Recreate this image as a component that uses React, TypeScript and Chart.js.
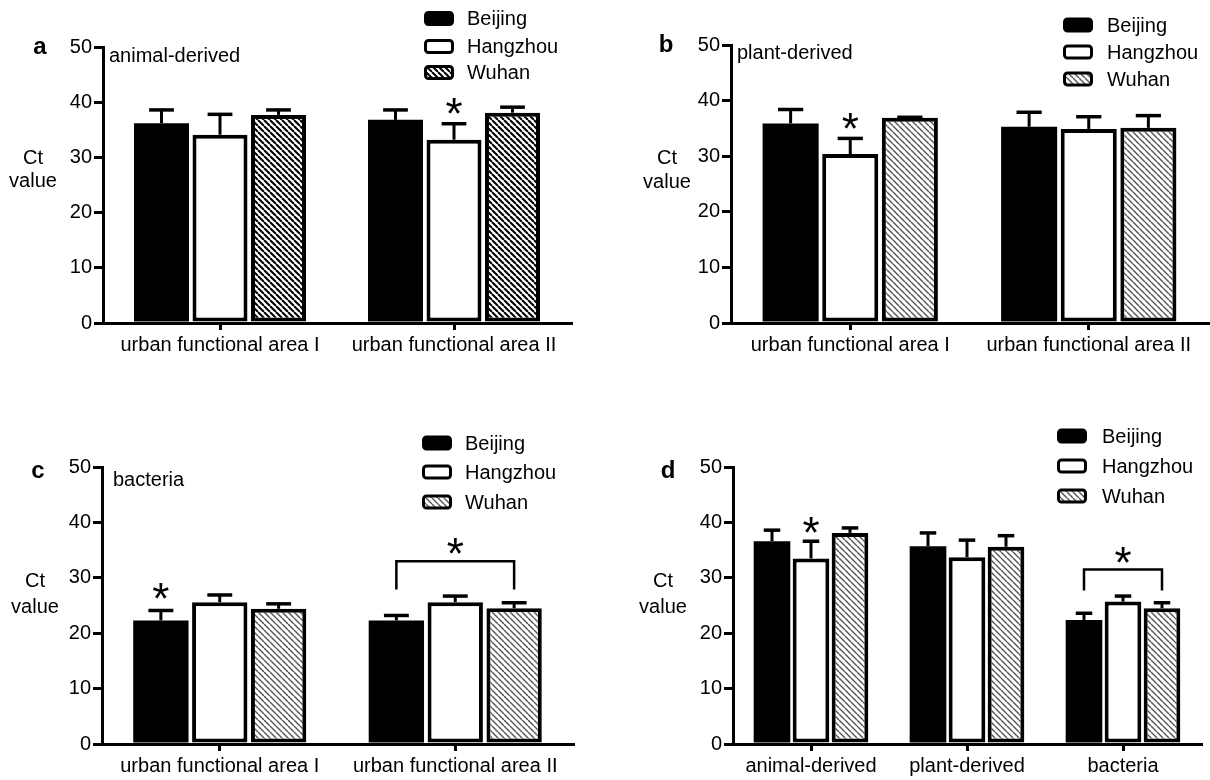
import React, { useEffect, useRef } from 'react';
import { Chart, registerables } from 'chart.js';

Chart.register(...registerables);

const FONT = '"Liberation Sans", Arial, Helvetica, sans-serif';

// ---------- data ----------
const seriesNames = ['Beijing', 'Hangzhou', 'Wuhan'];
const yTickValues = [0, 10, 20, 30, 40, 50];

// panel a: animal-derived
const catsA = ['urban functional area I', 'urban functional area II'];
const beijingA = [36.2, 36.8];
const hangzhouA = [34.1, 33.2];
const wuhanA = [37.7, 38.1];
const errBeijingA = [2.4, 1.8];
const errHangzhouA = [3.7, 2.9];
const errWuhanA = [0.9, 1.0];

// panel b: plant-derived
const catsB = ['urban functional area I', 'urban functional area II'];
const beijingB = [35.9, 35.3];
const hangzhouB = [30.4, 34.9];
const wuhanB = [36.9, 35.1];
const errBeijingB = [2.5, 2.6];
const errHangzhouB = [2.8, 2.2];
const errWuhanB = [0.1, 2.2];

// panel c: bacteria
const catsC = ['urban functional area I', 'urban functional area II'];
const beijingC = [22.3, 22.3];
const hangzhouC = [25.6, 25.6];
const wuhanC = [24.4, 24.5];
const errBeijingC = [1.8, 0.9];
const errHangzhouC = [1.3, 1.1];
const errWuhanC = [0.9, 1.0];

// panel d: all sources
const catsD = ['animal-derived', 'plant-derived', 'bacteria'];
const beijingD = [36.6, 35.7, 22.4];
const hangzhouD = [33.5, 33.7, 25.7];
const wuhanD = [38.1, 35.6, 24.5];
const errBeijingD = [2.0, 2.4, 1.2];
const errHangzhouD = [3.1, 3.1, 1.0];
const errWuhanD = [0.9, 2.0, 1.0];

// significance marks: [seriesIndex, categoryIndex, value]
const starsA = [[1, 1, 39.4]];
const starsB = [[1, 0, 36.4]];
const starsC = [[0, 0, 27.6]];
const starsD = [[1, 0, 39.6]];
// brackets: [categoryIndex, fromSeries, toSeries, topValue, endValue, starValue]
const bracketsA: number[][] = [];
const bracketsB: number[][] = [];
const bracketsC = [[1, 0, 2, 33.0, 27.9, 35.7]];
const bracketsD = [[2, 0, 2, 31.5, 27.7, 34.2]];

// ---------- layout ----------
type Spec = {
  left: number; top: number; width: number; height: number;
  plotLeft: number; plotRight: number; plotTop: number; plotBottom: number;
  letter: string; letterX: number; letterBase: number;
  subtitle: string; subX: number; subBase: number;
  ctX: number; ctBase: number; valueBase: number;
  legBoxX: number; legTextX: number; legRows: number[];
  hatchColor: string; hatchWidth: number; hatchGap: number;
  cats: string[]; data: number[][]; errs: number[][];
  stars: number[][]; brackets: number[][];
};

const panels: Spec[] = [
  {
    left: 0, top: 0, width: 605, height: 390,
    plotLeft: 103, plotRight: 571, plotTop: 47, plotBottom: 323,
    letter: 'a', letterX: 40, letterBase: 54,
    subtitle: 'animal-derived', subX: 109, subBase: 62,
    ctX: 33, ctBase: 164, valueBase: 187,
    legBoxX: 424, legTextX: 467, legRows: [18.5, 46.5, 72.5],
    hatchColor: '#000', hatchWidth: 2, hatchGap: 6,
    cats: catsA, data: [beijingA, hangzhouA, wuhanA], errs: [errBeijingA, errHangzhouA, errWuhanA],
    stars: starsA, brackets: bracketsA,
  },
  {
    left: 605, top: 0, width: 605, height: 390,
    plotLeft: 731, plotRight: 1208, plotTop: 45, plotBottom: 323,
    letter: 'b', letterX: 666, letterBase: 52,
    subtitle: 'plant-derived', subX: 737, subBase: 59,
    ctX: 667, ctBase: 164, valueBase: 188,
    legBoxX: 1063, legTextX: 1107, legRows: [25, 52, 79],
    hatchColor: '#555', hatchWidth: 1.4, hatchGap: 6,
    cats: catsB, data: [beijingB, hangzhouB, wuhanB], errs: [errBeijingB, errHangzhouB, errWuhanB],
    stars: starsB, brackets: bracketsB,
  },
  {
    left: 0, top: 390, width: 605, height: 390,
    plotLeft: 102, plotRight: 573, plotTop: 467, plotBottom: 744,
    letter: 'c', letterX: 38, letterBase: 478,
    subtitle: 'bacteria', subX: 113, subBase: 486,
    ctX: 35, ctBase: 587, valueBase: 613,
    legBoxX: 422, legTextX: 465, legRows: [443, 472, 502],
    hatchColor: '#555', hatchWidth: 1.4, hatchGap: 6,
    cats: catsC, data: [beijingC, hangzhouC, wuhanC], errs: [errBeijingC, errHangzhouC, errWuhanC],
    stars: starsC, brackets: bracketsC,
  },
  {
    left: 605, top: 390, width: 605, height: 390,
    plotLeft: 733, plotRight: 1201, plotTop: 467, plotBottom: 744,
    letter: 'd', letterX: 668, letterBase: 478,
    subtitle: '', subX: 0, subBase: 0,
    ctX: 663, ctBase: 587, valueBase: 613,
    legBoxX: 1057, legTextX: 1102, legRows: [436, 466, 496],
    hatchColor: '#555', hatchWidth: 1.4, hatchGap: 6,
    cats: catsD, data: [beijingD, hangzhouD, wuhanD], errs: [errBeijingD, errHangzhouD, errWuhanD],
    stars: starsD, brackets: bracketsD,
  },
];

function drawStar(ctx: CanvasRenderingContext2D, x: number, cy: number) {
  ctx.save();
  ctx.font = `44px ${FONT}`;
  ctx.textAlign = 'center';
  ctx.textBaseline = 'alphabetic';
  ctx.fillStyle = '#000';
  const m = ctx.measureText('*');
  const asc = m.actualBoundingBoxAscent;
  const desc = m.actualBoundingBoxDescent;
  const base = cy - (desc - asc) / 2;
  ctx.fillText('*', x, base);
  ctx.restore();
}

function Panel({ p }: { p: Spec }) {
  const ref = useRef<HTMLCanvasElement>(null);
  useEffect(() => {
    const canvas = ref.current!;
    const c0 = canvas.getContext('2d')!;
    const s = p.hatchGap;
    const tile = document.createElement('canvas');
    tile.width = s;
    tile.height = s;
    const t = tile.getContext('2d')!;
    t.fillStyle = '#fff';
    t.fillRect(0, 0, s, s);
    t.strokeStyle = p.hatchColor;
    t.lineWidth = p.hatchWidth;
    for (const o of [-s, 0, s]) {
      t.beginPath();
      t.moveTo(o, 0);
      t.lineTo(o + s, s);
      t.stroke();
    }
    const hatch = c0.createPattern(tile, 'repeat')!;
    const fills: (string | CanvasPattern)[] = ['#000', '#fff', hatch];
    const borders = [0, 4, 4];
    const ox = p.left;
    const oy = p.top;

    const decor = {
      id: 'decor',
      afterDatasetsDraw(chart: any) {
        const ctx: CanvasRenderingContext2D = chart.ctx;
        const ys = chart.scales.y;
        ctx.save();
        ctx.strokeStyle = '#000';
        ctx.lineCap = 'butt';
        // error bars
        p.errs.forEach((errArr, di) => {
          const meta = chart.getDatasetMeta(di);
          meta.data.forEach((el: any, i: number) => {
            const v = p.data[di][i];
            const yTop = ys.getPixelForValue(v + errArr[i]);
            const cap = el.width * 0.45;
            ctx.lineWidth = 3;
            ctx.beginPath();
            ctx.moveTo(el.x, el.y);
            ctx.lineTo(el.x, yTop);
            ctx.stroke();
            ctx.lineWidth = 3.5;
            ctx.beginPath();
            ctx.moveTo(el.x - cap / 2, yTop);
            ctx.lineTo(el.x + cap / 2, yTop);
            ctx.stroke();
          });
        });
        // stars
        p.stars.forEach(([di, ci, v]) => {
          const el = chart.getDatasetMeta(di).data[ci];
          drawStar(ctx, el.x, ys.getPixelForValue(v));
        });
        // brackets
        p.brackets.forEach(([ci, d1, d2, top, end, sv]) => {
          const e1 = chart.getDatasetMeta(d1).data[ci];
          const e2 = chart.getDatasetMeta(d2).data[ci];
          const yt = ys.getPixelForValue(top);
          const ye = ys.getPixelForValue(end);
          ctx.lineWidth = 2.5;
          ctx.beginPath();
          ctx.moveTo(e1.x, ye);
          ctx.lineTo(e1.x, yt);
          ctx.lineTo(e2.x, yt);
          ctx.lineTo(e2.x, ye);
          ctx.stroke();
          drawStar(ctx, (e1.x + e2.x) / 2, ys.getPixelForValue(sv));
        });
        ctx.restore();
      },
      afterDraw(chart: any) {
        const ctx: CanvasRenderingContext2D = chart.ctx;
        ctx.save();
        ctx.fillStyle = '#000';
        ctx.textBaseline = 'alphabetic';
        // panel letter
        ctx.font = `bold 24px ${FONT}`;
        ctx.textAlign = 'center';
        ctx.fillText(p.letter, p.letterX - ox, p.letterBase - oy);
        // subtitle
        ctx.font = `20px ${FONT}`;
        if (p.subtitle) {
          ctx.textAlign = 'left';
          ctx.fillText(p.subtitle, p.subX - ox, p.subBase - oy);
        }
        // y title
        ctx.textAlign = 'center';
        ctx.fillText('Ct', p.ctX - ox, p.ctBase - oy);
        ctx.fillText('value', p.ctX - ox, p.valueBase - oy);
        // legend
        seriesNames.forEach((name, i) => {
          const cy = p.legRows[i] - oy;
          const bx = p.legBoxX - ox;
          const w = 30, h = 15, lw = 3;
          ctx.beginPath();
          ctx.roundRect(bx + lw / 2, cy - h / 2 + lw / 2, w - lw, h - lw, 3);
          ctx.fillStyle = fills[i] as any;
          ctx.fill();
          ctx.lineWidth = lw;
          ctx.strokeStyle = '#000';
          ctx.stroke();
          ctx.fillStyle = '#000';
          ctx.font = `20px ${FONT}`;
          ctx.textAlign = 'left';
          ctx.textBaseline = 'middle';
          ctx.fillText(name, p.legTextX - ox, cy + 1);
        });
        ctx.restore();
      },
    };

    const chart = new Chart(canvas, {
      type: 'bar',
      data: {
        labels: p.cats,
        datasets: seriesNames.map((name, i) => ({
          label: name,
          data: p.data[i],
          backgroundColor: fills[i] as any,
          borderColor: '#000',
          borderWidth: borders[i],
          borderSkipped: false,
          inflateAmount: 0,
          categoryPercentage: 0.75,
          barPercentage: 0.94,
        })),
      },
      options: {
        responsive: false,
        animation: false,
        devicePixelRatio: 1,
        events: [],
        layout: {
          padding: {
            left: 0,
            top: p.plotTop - p.top,
            right: p.left + p.width - p.plotRight,
            bottom: 0,
          },
        },
        plugins: {
          legend: { display: false },
          tooltip: { enabled: false },
          title: { display: false },
        },
        scales: {
          x: {
            type: 'category',
            offset: true,
            grid: {
              display: true,
              drawOnChartArea: false,
              drawTicks: true,
              tickLength: 7,
              tickWidth: 3,
              tickColor: '#000',
              color: '#000',
              lineWidth: 3,
              offset: false,
            },
            border: { display: true, color: '#000', width: 3 },
            ticks: {
              color: '#000',
              font: { family: FONT, size: 20 },
              padding: 3,
              autoSkip: false,
              maxRotation: 0,
              minRotation: 0,
            },
            afterFit: (axis: any) => {
              axis.height = p.top + p.height - p.plotBottom;
            },
          },
          y: {
            min: 0,
            max: 50,
            afterBuildTicks: (axis: any) => {
              axis.ticks = yTickValues.map((v) => ({ value: v }));
            },
            grid: {
              display: true,
              drawOnChartArea: false,
              drawTicks: true,
              tickLength: 9,
              tickWidth: 3,
              tickColor: '#000',
              color: '#000',
              lineWidth: 3,
            },
            border: { display: true, color: '#000', width: 3 },
            ticks: {
              color: '#000',
              font: { family: FONT, size: 20 },
              padding: 2,
            },
            afterFit: (axis: any) => {
              axis.width = p.plotLeft - p.left;
            },
          },
        },
      },
      plugins: [decor],
    } as any);
    return () => chart.destroy();
  }, []);
  return (
    <canvas
      ref={ref}
      width={p.width}
      height={p.height}
      style={{ position: 'absolute', left: p.left, top: p.top, width: p.width, height: p.height }}
    />
  );
}

export default function App() {
  return (
    <div style={{ position: 'absolute', left: 0, top: 0, width: 1210, height: 780, background: '#fff' }}>
      {panels.map((p, i) => (
        <Panel key={i} p={p} />
      ))}
    </div>
  );
}
